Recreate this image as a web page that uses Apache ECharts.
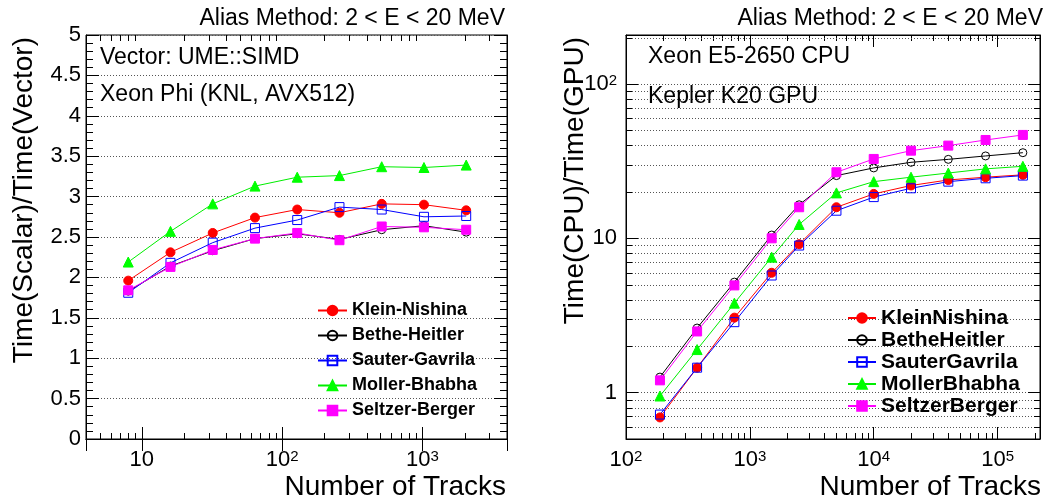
<!DOCTYPE html>
<html><head><meta charset="utf-8">
<script src="https://cdn.jsdelivr.net/npm/echarts@6/dist/echarts.min.js"></script>
<style>html,body{margin:0;padding:0;background:#fff}#c{width:1051px;height:502px}</style>
</head><body><div id="c"></div>
<script>
// ---------- data ----------
const leftTracks = [8, 16, 32, 64, 128, 256, 512, 1024, 2048];
const leftNames = ['Klein-Nishina', 'Bethe-Heitler', 'Sauter-Gavrila', 'Moller-Bhabha', 'Seltzer-Berger'];
const leftKN = [1.96, 2.31, 2.55, 2.74, 2.84, 2.80, 2.91, 2.90, 2.83];
const leftBH = [1.83, 2.14, 2.33, 2.48, 2.54, 2.47, 2.59, 2.64, 2.56];
const leftSG = [1.81, 2.18, 2.43, 2.61, 2.71, 2.87, 2.84, 2.75, 2.76];
const leftMB = [2.19, 2.57, 2.91, 3.13, 3.24, 3.26, 3.37, 3.36, 3.39];
const leftSB = [1.84, 2.13, 2.34, 2.48, 2.55, 2.46, 2.63, 2.62, 2.59];

const rightTracks = [188, 375, 750, 1500, 2500, 5000, 10000, 20000, 40000, 80000, 160000];
const rightNames = ['KleinNishina', 'BetheHeitler', 'SauterGavrila', 'MollerBhabha', 'SeltzerBerger'];
const rightKN = [0.69, 1.45, 3.06, 5.98, 9.16, 15.9, 19.4, 22.0, 23.9, 24.9, 25.8];
const rightBH = [1.26, 2.62, 5.2, 10.5, 16.5, 25.5, 28.6, 31.1, 32.5, 34.2, 35.9];
const rightSG = [0.72, 1.45, 2.86, 5.74, 8.98, 15.1, 18.5, 21.1, 23.3, 24.5, 25.5];
const rightMB = [0.95, 1.90, 3.8, 7.55, 12.3, 19.7, 23.3, 24.9, 26.5, 28.2, 29.3];
const rightSB = [1.20, 2.49, 4.95, 10.0, 15.9, 26.8, 32.7, 37.0, 39.9, 43.4, 46.8];

// minor tick values on log axes
const leftXMinor = [5, 6, 7, 8, 9, 20, 30, 40, 50, 60, 70, 80, 90, 200, 300, 400, 500, 600, 700, 800, 900, 2000, 3000];
const rightXMinor = [200, 300, 400, 500, 600, 700, 800, 900, 2000, 3000, 4000, 5000, 6000, 7000, 8000, 9000,
  20000, 30000, 40000, 50000, 60000, 70000, 80000, 90000, 200000];
const rightYMinor = [0.6, 0.7, 0.8, 0.9, 2, 3, 4, 5, 6, 7, 8, 9, 20, 30, 40, 50, 60, 70, 80, 90, 200];

const titleText = 'Alias Method: 2 < E < 20 MeV';
const leftNotes = ['Vector: UME::SIMD', 'Xeon Phi (KNL, AVX512)'];
const rightNotes = ['Xeon E5-2650 CPU', 'Kepler K20 GPU'];
const xTitle = 'Number of Tracks';
const leftYTitle = 'Time(Scalar)/Time(Vector)';
const rightYTitle = 'Time(CPU)/Time(GPU)';

// ---------- styles ----------
const FONT = '"Liberation Sans", Arial, Helvetica, sans-serif';
const styles = [
  { symbol: 'circle', size: 9, line: '#ff0000', fill: '#ff0000', border: '#ff0000' },
  { symbol: 'circle', size: 8, line: '#000000', fill: 'rgba(255,255,255,0)', border: '#000000' },
  { symbol: 'rect', size: 9, line: '#0000ff', fill: 'rgba(255,255,255,0)', border: '#0000ff' },
  { symbol: 'triangle', size: 10, line: '#00ee00', fill: '#00ff00', border: '#00ff00' },
  { symbol: 'rect', size: 9, line: '#ff00ff', fill: '#ff00ff', border: '#ff00ff' }
];

const richLabels = {
  b: { fontSize: 22, fontFamily: FONT, color: '#000', lineHeight: 22, padding: [7, 0, 0, 0], verticalAlign: 'bottom' },
  c: { fontSize: 22, fontFamily: FONT, color: '#000', lineHeight: 22 },
  s: { fontSize: 15, fontFamily: FONT, color: '#000', lineHeight: 15, verticalAlign: 'top' }
};
function logExp(v) {
  const l = Math.log10(v), e = Math.round(l);
  return Math.abs(l - e) < 1e-6 ? e : null;
}
function xLogLabel(v) {
  const e = logExp(v);
  if (e === null) return '';
  if (e === 0) return '{b|1}';
  if (e === 1) return '{b|10}';
  return '{b|10}{s|' + e + '}';
}
function yLogLabel(v) {
  const e = logExp(v);
  if (e === null) return '';
  if (e === 0) return '{c|1}';
  if (e === 1) return '{c|10}';
  return '{b|10}{s|' + e + '}';
}

const grids = [
  { left: 86, top: 35, width: 421, height: 404, show: true, borderColor: '#000', borderWidth: 1, backgroundColor: '#fff' },
  { left: 626, top: 35, width: 414, height: 404, show: true, borderColor: '#000', borderWidth: 1, backgroundColor: '#fff' }
];
const axisLine = { show: true, lineStyle: { color: '#000', width: 1 } };
const dotted = { color: '#555', width: 1, type: [1, 2] };

function xLog(gi, min, max, pos, labels) {
  return {
    type: 'log', logBase: 10, gridIndex: gi, min: min, max: max, position: pos,
    axisLine: axisLine,
    axisTick: { show: true, inside: true, length: 12, lineStyle: { color: '#000' } },
    axisLabel: labels ? { show: true, margin: 10, formatter: xLogLabel, rich: richLabels, showMinLabel: true, showMaxLabel: true, hideOverlap: false } : { show: false },
    splitLine: { show: false }
  };
}

const xAxes = [
  xLog(0, 4, 4000, 'bottom', true),
  xLog(0, 4, 4000, 'top', false),
  xLog(1, 100, 220000, 'bottom', true),
  xLog(1, 100, 220000, 'top', false)
];

function yLin(pos, labels) {
  return {
    type: 'value', gridIndex: 0, min: 0, max: 5, interval: 0.5, position: pos,
    axisLine: axisLine,
    axisTick: { show: true, inside: true, length: 13, lineStyle: { color: '#000' } },
    minorTick: { show: true, splitNumber: 5, length: 7, lineStyle: { color: '#000' } },
    axisLabel: labels ? { show: true, margin: 5, fontSize: 22, fontFamily: FONT, color: '#000' } : { show: false },
    splitLine: labels ? { show: true, lineStyle: dotted } : { show: false }
  };
}
function yLog(pos, labels) {
  return {
    type: 'log', logBase: 10, gridIndex: 1, min: 0.5, max: 208, position: pos,
    axisLine: axisLine,
    axisTick: { show: true, inside: true, length: 12, lineStyle: { color: '#000' } },
    axisLabel: labels ? { show: true, margin: 9, formatter: yLogLabel, rich: richLabels, showMinLabel: true, showMaxLabel: true } : { show: false },
    splitLine: labels ? { show: true, lineStyle: dotted } : { show: false }
  };
}
const yAxes = [yLin('left', true), yLin('right', false), yLog('left', true), yLog('right', false)];

function lineSeries(name, xs, ys, st, xi, yi) {
  return {
    type: 'line', name: name, xAxisIndex: xi, yAxisIndex: yi,
    data: xs.map((x, i) => [x, ys[i]]),
    symbol: st.symbol, symbolSize: st.size, showSymbol: true,
    lineStyle: { color: st.line, width: 1 },
    itemStyle: { color: st.fill, borderColor: st.border, borderWidth: 1 },
    color: st.line,
    emphasis: { disabled: true }, animation: false, z: 3
  };
}

function xMinorTicks(values, xi, yi, yRef) {
  return {
    type: 'custom', xAxisIndex: xi, yAxisIndex: yi, silent: true, animation: false, z: 2,
    data: values.map(v => [v, yRef]),
    renderItem: function (params, api) {
      const cs = params.coordSys;
      const x = Math.round(api.coord([api.value(0), api.value(1)])[0]) + 0.5;
      const b = cs.y + cs.height, t = cs.y;
      const st = { stroke: '#000', lineWidth: 1 };
      return { type: 'group', children: [
        { type: 'line', shape: { x1: x, y1: b, x2: x, y2: b - 6 }, style: st },
        { type: 'line', shape: { x1: x, y1: t, x2: x, y2: t + 6 }, style: st }
      ] };
    }
  };
}
function yMinorTicks(values, xi, yi, xRef) {
  return {
    type: 'custom', xAxisIndex: xi, yAxisIndex: yi, silent: true, animation: false, z: 2,
    data: values.map(v => [xRef, v]),
    renderItem: function (params, api) {
      const cs = params.coordSys;
      const y = Math.round(api.coord([api.value(0), api.value(1)])[1]) + 0.5;
      const l = cs.x, r = cs.x + cs.width;
      const st = { stroke: '#000', lineWidth: 1 };
      return { type: 'group', children: [
        { type: 'line', shape: { x1: l, y1: y, x2: r, y2: y }, style: { stroke: '#555', lineWidth: 1, lineDash: [1, 2] } },
        { type: 'line', shape: { x1: l, y1: y, x2: l + 6, y2: y }, style: st },
        { type: 'line', shape: { x1: r, y1: y, x2: r - 6, y2: y }, style: st }
      ] };
    }
  };
}

const leftData = [leftKN, leftBH, leftSG, leftMB, leftSB];
const rightData = [rightKN, rightBH, rightSG, rightMB, rightSB];
const series = [
  xMinorTicks(leftXMinor, 0, 0, 1),
  xMinorTicks(rightXMinor, 2, 2, 1),
  yMinorTicks(rightYMinor, 2, 2, 1000)
];
leftData.forEach((d, i) => series.push(lineSeries(leftNames[i], leftTracks, d, styles[i], 0, 0)));
rightData.forEach((d, i) => series.push(lineSeries(rightNames[i], rightTracks, d, styles[i], 2, 2)));

function txt(s, x, y, size, align, rot) {
  return {
    type: 'text', x: x, y: y, rotation: rot || 0, silent: true, z: 10,
    style: { text: s, font: size + 'px ' + FONT, fill: '#000', textAlign: align, textVerticalAlign: 'middle' }
  };
}

const option = {
  animation: false,
  backgroundColor: '#fff',
  grid: grids,
  xAxis: xAxes,
  yAxis: yAxes,
  legend: [
    { data: leftNames, orient: 'vertical', left: 317, top: 298, padding: 0, itemGap: 0,
      itemWidth: 29, itemHeight: 12, selectedMode: false,
      textStyle: { fontFamily: FONT, fontWeight: 'bold', fontSize: 18, lineHeight: 25, color: '#000' } },
    { data: rightNames, orient: 'vertical', left: 847, top: 307, padding: 0, itemGap: 0,
      itemWidth: 28, itemHeight: 12, selectedMode: false,
      textStyle: { fontFamily: FONT, fontWeight: 'bold', fontSize: 21, lineHeight: 22, color: '#000' } }
  ],
  series: series,
  graphic: [
    txt(titleText, 505, 19, 23, 'right'),
    txt(titleText, 1043, 19, 23, 'right'),
    txt(leftNotes[0], 100, 58, 23, 'left'),
    txt(leftNotes[1], 100, 95, 23, 'left'),
    txt(rightNotes[0], 648, 57, 23, 'left'),
    txt(rightNotes[1], 648, 97, 23, 'left'),
    txt(xTitle, 506, 487, 28, 'right'),
    txt(xTitle, 1041, 487, 28, 'right'),
    txt(leftYTitle, 24, 37, 28, 'right', Math.PI / 2),
    txt(rightYTitle, 575, 37, 28, 'right', Math.PI / 2)
  ]
};
const chart = echarts.init(document.getElementById('c'), null, { renderer: 'canvas' });
chart.setOption(option);
</script>
</body></html>
